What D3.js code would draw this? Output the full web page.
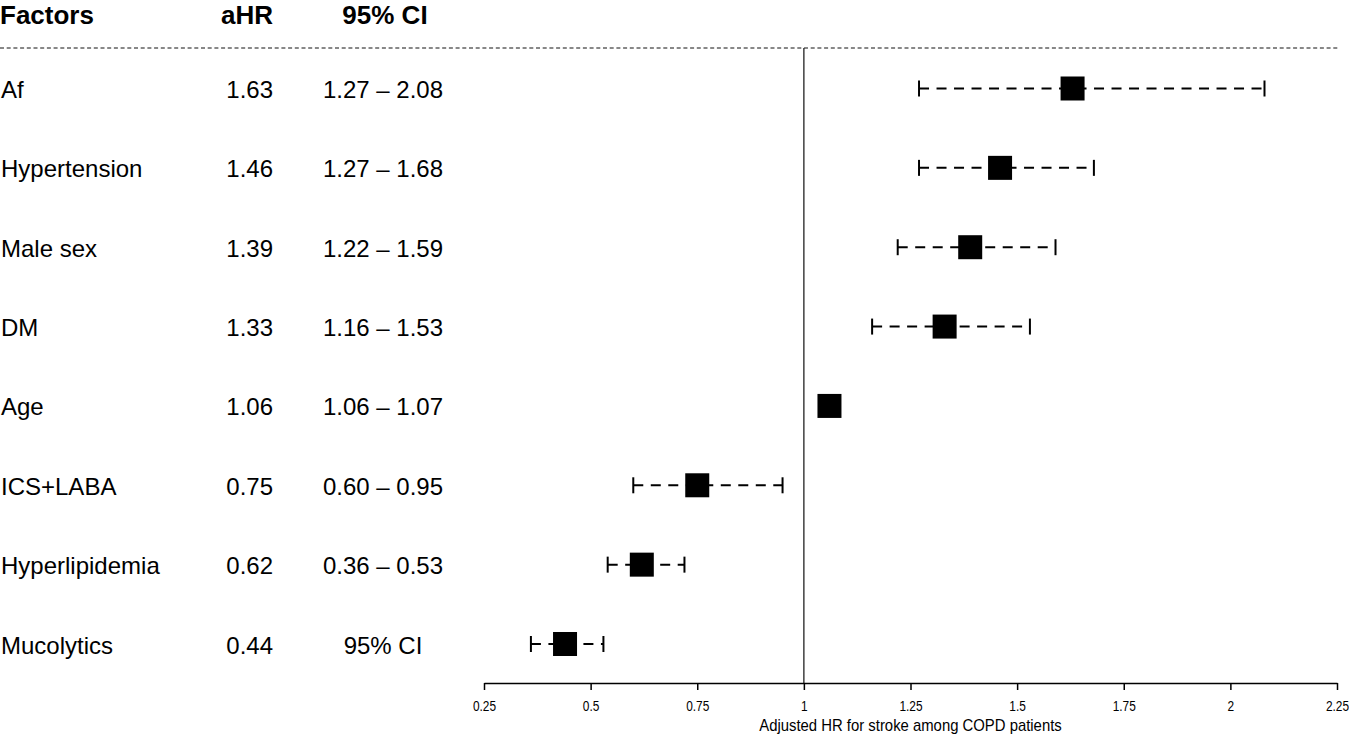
<!DOCTYPE html>
<html>
<head>
<meta charset="utf-8">
<script src="https://cdn.jsdelivr.net/npm/d3@7"></script>
<style>
  body { margin: 0; background: #fff; }
  text { font-family: "Liberation Sans", Arial, sans-serif; fill: #000; }
</style>
</head>
<body>
<script>
// rows, top to bottom
const factors = ['Af', 'Hypertension', 'Male sex', 'DM', 'Age', 'ICS+LABA', 'Hyperlipidemia', 'Mucolytics'];
const hrLabels = ['1.63', '1.46', '1.39', '1.33', '1.06', '0.75', '0.62', '0.44'];
const ciLabels = ['1.27 \u2013 2.08', '1.27 \u2013 1.68', '1.22 \u2013 1.59', '1.16 \u2013 1.53',
                  '1.06 \u2013 1.07', '0.60 \u2013 0.95', '0.36 \u2013 0.53', '95% CI'];
// plotted values (as drawn)
const hr    = [1.63, 1.46, 1.39, 1.33, 1.06, 0.75, 0.62, 0.44];
const lower = [1.27, 1.27, 1.22, 1.16, 1.06, 0.60, 0.54, 0.36];
const upper = [2.08, 1.68, 1.59, 1.53, 1.07, 0.95, 0.72, 0.53];
const xTicks = [0.25, 0.5, 0.75, 1, 1.25, 1.5, 1.75, 2, 2.25];

const width = 1349;
const height = 735;

const rows = factors.map(function (f, i) {
    return {factor: f, hrLabel: hrLabels[i], ciLabel: ciLabels[i], hr: hr[i], lo: lower[i], hi: upper[i]};
});

const svg = d3.select('body')
    .append('svg')
    .attr('width', width)
    .attr('height', height);

const x = d3.scaleLinear()
    .domain([0.25, 2.25])
    .range([484, 1337]);

const y = d3.scalePoint()
    .domain(factors)
    .range([88.5, 644]);

const axisY = 683;
const boxSize = 24;

// headers
svg.append('text').attr('x', 0).attr('y', 24).style('font-size', '26px').style('font-weight', 'bold').text('Factors');
svg.append('text').attr('x', 273).attr('y', 24).attr('text-anchor', 'end').style('font-size', '26px').style('font-weight', 'bold').text('aHR');
svg.append('text').attr('x', 385).attr('y', 24).attr('text-anchor', 'middle').style('font-size', '26px').style('font-weight', 'bold').text('95% CI');

svg.append('line')
    .attr('x1', 0).attr('x2', 1338)
    .attr('y1', 48).attr('y2', 48)
    .attr('stroke', '#111')
    .attr('stroke-width', 1)
    .attr('stroke-dasharray', '4,2.7');

// reference line at 1
svg.append('line')
    .attr('x1', x(1)).attr('x2', x(1))
    .attr('y1', 48).attr('y2', axisY)
    .attr('stroke', '#222')
    .attr('stroke-width', 1.3);

// text columns
const labels = svg.append('g');
labels.selectAll('.fac').data(rows).enter().append('text')
    .attr('x', 1).attr('y', d => y(d.factor) + 9.5)
    .style('font-size', '24px')
    .text(d => d.factor);
labels.selectAll('.hr').data(rows).enter().append('text')
    .attr('x', 273).attr('y', d => y(d.factor) + 9.5)
    .attr('text-anchor', 'end')
    .style('font-size', '24px')
    .text(d => d.hrLabel);
labels.selectAll('.ci').data(rows).enter().append('text')
    .attr('x', 383).attr('y', d => y(d.factor) + 9.5)
    .attr('text-anchor', 'middle')
    .style('font-size', '24px')
    .text(d => d.ciLabel);

// error bars
const bars = svg.append('g');
bars.selectAll('.ci-line').data(rows).enter().append('line')
    .attr('x1', d => x(d.lo)).attr('x2', d => x(d.hi))
    .attr('y1', d => y(d.factor)).attr('y2', d => y(d.factor))
    .attr('stroke', '#000')
    .attr('stroke-width', 2)
    .attr('stroke-dasharray', '10,7.5');
bars.selectAll('.cap-lo').data(rows).enter().append('line')
    .attr('x1', d => x(d.lo)).attr('x2', d => x(d.lo))
    .attr('y1', d => y(d.factor) - 8).attr('y2', d => y(d.factor) + 8)
    .attr('stroke', '#000').attr('stroke-width', 2);
bars.selectAll('.cap-hi').data(rows).enter().append('line')
    .attr('x1', d => x(d.hi)).attr('x2', d => x(d.hi))
    .attr('y1', d => y(d.factor) - 8).attr('y2', d => y(d.factor) + 8)
    .attr('stroke', '#000').attr('stroke-width', 2);
bars.selectAll('rect').data(rows).enter().append('rect')
    .attr('x', d => x(d.hr) - boxSize / 2)
    .attr('y', d => y(d.factor) - boxSize / 2)
    .attr('width', boxSize).attr('height', boxSize)
    .attr('fill', '#000');

// x axis
const xAxis = d3.axisBottom(x)
    .tickValues(xTicks)
    .tickFormat(d3.format(''))
    .tickSize(7)
    .tickSizeOuter(0)
    .tickPadding(11);

const gx = svg.append('g')
    .attr('transform', 'translate(0,' + axisY + ')')
    .call(xAxis);
gx.select('.domain').attr('stroke', '#000').attr('stroke-width', 1.5);
gx.selectAll('.tick line').attr('stroke', '#000').attr('stroke-width', 1.5);
gx.selectAll('.tick text')
    .style('font-family', '"Liberation Sans", Arial, sans-serif')
    .style('font-size', '14px')
    .attr('fill', '#000')
    .attr('transform', 'scale(0.85,1)');

const titleScale = 0.93;
svg.append('text')
    .attr('x', x(1.25) / titleScale)
    .attr('y', 731)
    .attr('text-anchor', 'middle')
    .attr('transform', 'scale(' + titleScale + ',1)')
    .style('font-size', '16px')
    .text('Adjusted HR for stroke among COPD patients');
</script>
</body>
</html>
